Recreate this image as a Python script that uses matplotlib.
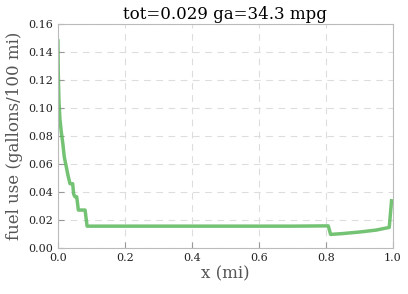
import numpy as np
import matplotlib
matplotlib.use("Agg")
import matplotlib.pyplot as plt

# fuel use along the route
x_mi = [0.0, 0.001, 0.003, 0.006, 0.010, 0.015, 0.019, 0.025, 0.030, 0.036,
        0.038, 0.044, 0.047, 0.051, 0.056, 0.061, 0.070, 0.081, 0.087,
        0.300, 0.500, 0.700, 0.807, 0.814, 0.850, 0.900, 0.950, 0.989, 0.996]
fuel = [0.148, 0.125, 0.105, 0.092, 0.083, 0.074, 0.065, 0.058, 0.052, 0.046,
        0.046, 0.046, 0.0385, 0.0367, 0.0367, 0.0272, 0.0272, 0.0272, 0.0157,
        0.0157, 0.0157, 0.0157, 0.0159, 0.0098, 0.0104, 0.0115, 0.0129, 0.0148, 0.0338]

title = "tot=0.029 ga=34.3 mpg"
xticks = [0.0, 0.2, 0.4, 0.6, 0.8, 1.0]
yticks = [0.00, 0.02, 0.04, 0.06, 0.08, 0.10, 0.12, 0.14, 0.16]

plt.rcParams['font.family'] = ['DejaVu Serif']

fig = plt.figure(figsize=(4.08, 2.94), dpi=100)
ax = fig.add_axes([0.142, 0.156, 0.821, 0.762])

ax.plot(x_mi, fuel, color='#5cb85c', lw=2.5, alpha=0.85)

ax.set_xlim(0, 1)
ax.set_ylim(0, 0.16)
ax.set_xticks(xticks)
ax.set_yticks(yticks)
ax.set_xticklabels([f"{v:.1f}" for v in xticks])
ax.set_yticklabels([f"{v:.2f}" for v in yticks])
ax.tick_params(direction='in', length=4, color='#999999', labelsize=8,
               labelcolor='#222222', top=False, right=False)
for s in ax.spines.values():
    s.set_color('#bbbbbb')
ax.grid(True, ls=(0, (6, 5)), color='#dddddd', lw=0.8)

ax.set_title(title, fontsize=12, pad=4)
ax.set_xlabel("x (mi)", fontsize=12, color='#555555', labelpad=2)
ax.set_ylabel("fuel use (gallons/100 mi)", fontsize=12, color='#555555', labelpad=4)

fig.savefig("out.png", dpi=100)
